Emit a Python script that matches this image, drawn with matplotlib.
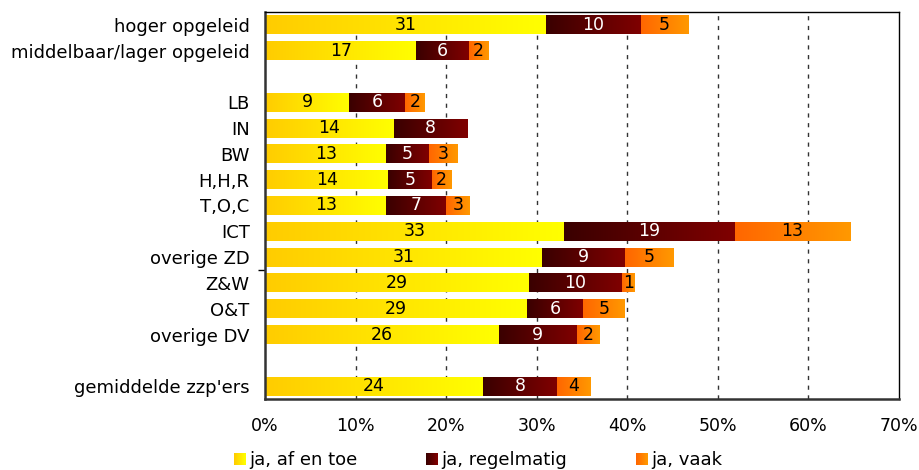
import matplotlib.pyplot as plt
import numpy as np
from matplotlib.colors import LinearSegmentedColormap
from matplotlib.patches import Rectangle
from matplotlib.legend_handler import HandlerBase

# rows from top to bottom, '' = empty spacer row
categories = ['hoger opgeleid', 'middelbaar/lager opgeleid', '',
              'LB', 'IN', 'BW', 'H,H,R', 'T,O,C', 'ICT', 'overige ZD',
              'Z&W', 'O&T', 'overige DV', '', "gemiddelde zzp'ers"]

af_en_toe = [31.0, 16.7, 0, 9.3, 14.2, 13.4, 13.6, 13.4, 33.0, 30.6,
             29.1, 28.9, 25.8, 0, 24.1]
regelmatig = [10.5, 5.8, 0, 6.2, 8.1, 4.7, 4.8, 6.6, 18.9, 9.1,
              10.3, 6.2, 8.6, 0, 8.1]
vaak = [5.2, 2.1, 0, 2.2, 0, 3.2, 2.1, 2.6, 12.7, 5.4,
        1.4, 4.6, 2.5, 0, 3.7]

lab_af = ['31', '17', '', '9', '14', '13', '14', '13', '33', '31',
          '29', '29', '26', '', '24']
lab_reg = ['10', '6', '', '6', '8', '5', '5', '7', '19', '9',
           '10', '6', '9', '', '8']
lab_vaak = ['5', '2', '', '2', '', '3', '2', '3', '13', '5',
            '1', '5', '2', '', '4']

series_names = ['ja, af en toe', 'ja, regelmatig', 'ja, vaak']
grad_colors = [('#FFCC00', '#FFFF00'), ('#3A0000', '#800000'), ('#FF6600', '#FF9900')]
text_colors = ['black', 'white', 'black']

plt.rcParams['font.family'] = ['DejaVu Sans']

fig = plt.figure(figsize=(9.2, 4.7), dpi=100)
ax = fig.add_axes([265 / 920, 1 - 399 / 470, (899 - 265) / 920, (399 - 12) / 470])

y = np.arange(len(categories))
grad = np.linspace(0, 1, 256).reshape(1, -1)

left = np.zeros(len(categories))
for vals, labels, (c0, c1), tc in zip([af_en_toe, regelmatig, vaak],
                                       [lab_af, lab_reg, lab_vaak],
                                       grad_colors, text_colors):
    cmap = LinearSegmentedColormap.from_list('g', [c0, c1])
    bars = ax.barh(y, vals, left=left, height=0.74, color='none', edgecolor='none')
    for bar, v, lab in zip(bars, vals, labels):
        if v <= 0:
            continue
        x0, y0 = bar.get_x(), bar.get_y()
        w, h = bar.get_width(), bar.get_height()
        im = ax.imshow(grad, cmap=cmap, aspect='auto', extent=(x0, x0 + w, y0 + h, y0),
                       zorder=2, interpolation='bicubic')
        im.set_clip_path(bar)
        if lab:
            ax.text(x0 + w / 2, y0 + h / 2, lab, ha='center', va='center',
                    color=tc, fontsize=12.5, zorder=3)
    left = left + np.array(vals)

ax.set_xlim(0, 70)
ax.set_ylim(len(categories) - 0.5, -0.5)
ax.set_xticks(np.arange(0, 71, 10))
ax.set_xticklabels([f'{t}%' for t in range(0, 71, 10)], fontsize=12.5)
ax.set_yticks(y)
ax.set_yticklabels(categories, fontsize=13)
ax.tick_params(axis='y', length=0, pad=11)
ax.tick_params(axis='x', length=0, pad=13)
ax.set_yticks([9.5], minor=True)
ax.tick_params(axis='y', which='minor', length=5, width=1, color='black')

for t in range(10, 70, 10):
    ax.axvline(t, color='#333333', linestyle=(0, (3, 4)), linewidth=1, zorder=1)

for s in ['top', 'right']:
    ax.spines[s].set_color('black')
    ax.spines[s].set_linewidth(1)
for s in ['left', 'bottom']:
    ax.spines[s].set_color('#333333')
    ax.spines[s].set_linewidth(1.8)


class GradientHandler(HandlerBase):
    def __init__(self, c0, c1):
        super().__init__()
        self.cmap = LinearSegmentedColormap.from_list('h', [c0, c1])

    def create_artists(self, legend, orig_handle, xdescent, ydescent,
                       width, height, fontsize, trans):
        n = 12
        size = width
        arts = []
        for i in range(n):
            r = Rectangle((i * size / n - xdescent, -ydescent + (height - size) / 2),
                          size / n + 0.3, size, facecolor=self.cmap(i / (n - 1)),
                          edgecolor='none', transform=trans)
            arts.append(r)
        return arts


handles = [Rectangle((0, 0), 1, 1) for _ in series_names]
handler_map = {h: GradientHandler(c0, c1) for h, (c0, c1) in zip(handles, grad_colors)}
fig.legend(handles, series_names, handler_map=handler_map, loc='center',
           bbox_to_anchor=(478 / 920, 1 - 460 / 470), ncol=3, frameon=False,
           fontsize=13, handlelength=0.66, handletextpad=0.2, columnspacing=3.8)

fig.savefig('out.png', dpi=100)
